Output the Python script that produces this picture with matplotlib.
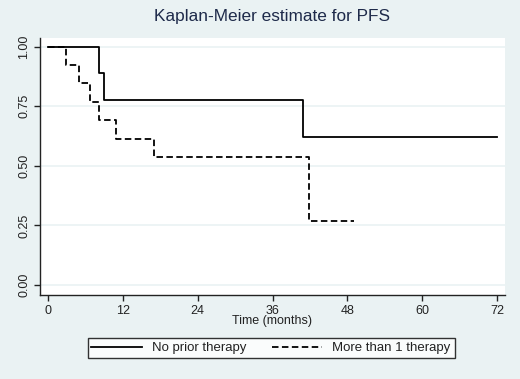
import matplotlib
matplotlib.use("Agg")
import matplotlib.pyplot as plt

plt.rcParams["font.family"] = ["Liberation Sans", "DejaVu Sans"]

# survival curves (months, estimate)
no_prior_t = [0, 8.2, 9.0, 40.9, 72]
no_prior_s = [1.0, 0.889, 0.778, 0.622, 0.622]
more1_t = [0, 2.9, 5.0, 6.8, 8.1, 10.9, 17.0, 41.9, 49]
more1_s = [1.0, 0.923, 0.846, 0.769, 0.692, 0.615, 0.538, 0.269, 0.269]

x_ticks = [0, 12, 24, 36, 48, 60, 72]
y_ticks = [0.0, 0.25, 0.5, 0.75, 1.0]

bg = "#EAF2F3"
fig = plt.figure(figsize=(5.2, 3.79), dpi=100, facecolor=bg)
W, H = 520, 379
ax = fig.add_axes([40 / W, (H - 295) / H, 465 / W, (295 - 38) / H])
ax.set_facecolor("white")

ax.plot(no_prior_t, no_prior_s, drawstyle="steps-post", color="black",
        lw=1.3, label="No prior therapy")
ax.plot(more1_t, more1_s, drawstyle="steps-post", color="black",
        lw=1.3, dashes=(3.6, 1.9), label="More than 1 therapy")

ax.set_xlim(-1.3, 73.3)
ax.set_ylim(-0.042, 1.037)
ax.set_xticks(x_ticks)
ax.set_yticks(y_ticks)
ax.set_yticklabels([f"{v:.2f}" for v in y_ticks], rotation=90, va="center")
ax.grid(axis="y", color=bg, lw=1.2)
ax.set_axisbelow(True)

for s in ["top", "right"]:
    ax.spines[s].set_visible(False)
for s in ["left", "bottom"]:
    ax.spines[s].set_color("#222222")
    ax.spines[s].set_linewidth(1.0)
ax.tick_params(direction="out", length=4, width=1.0, color="#222222",
               labelsize=9, labelcolor="#222222", pad=3)

ax.set_xlabel("Time (months)", fontsize=9, color="#222222", labelpad=-1)
fig.text(272 / W, 1 - 17 / H, "Kaplan-Meier estimate for PFS",
         ha="center", va="center", fontsize=12.4, color="#1E2A4A")

leg = fig.legend(loc="center", bbox_to_anchor=(271 / W, 1 - 348 / H), ncol=2,
                 fontsize=9.5, frameon=True, fancybox=False, handlelength=3.8,
                 columnspacing=1.9, borderpad=0.3, handletextpad=0.8)
leg.get_frame().set_edgecolor("black")
leg.get_frame().set_linewidth(1.0)
for t in leg.get_texts():
    t.set_color("#222222")

fig.savefig("out.png", dpi=100, facecolor=bg)
